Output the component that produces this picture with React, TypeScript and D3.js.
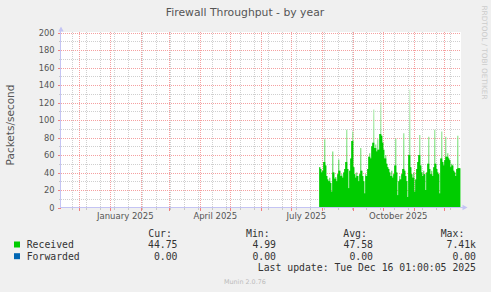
import React from "react";
import * as d3 from "d3";

const W = 491;
const H = 292;

const title = "Firewall Throughput - by year";
const yAxisLabel = "Packets/second";
const yTicks = [0, 20, 40, 60, 80, 100, 120, 140, 160, 180, 200];
const yMinorTicks = [10, 30, 50, 70, 90, 110, 130, 150, 170, 190];
const xLabels = ["January 2025", "April 2025", "July 2025", "October 2025"];
const xLabelDates = ["2025-01-16", "2025-04-16", "2025-07-16", "2025-10-16"];

// daily values of "Received", starting on this date
const receivedStart = "2025-07-29";
const received = [
  46, 44, 40, 42, 52, 78, 48, 36, 32, 30, 34, 28, 18, 64, 40, 33, 35, 30, 38, 55,
  42, 36, 38, 34, 40, 44, 52, 89, 44, 22, 42, 56, 76, 87, 46, 38, 34, 40, 36, 30,
  38, 68, 42, 36, 30, 16, 38, 36, 44, 58, 62, 56, 70, 74, 112, 68, 72, 64, 78, 66,
  84, 120, 82, 74, 66, 56, 60, 50, 46, 44, 40, 36, 42, 34, 38, 48, 79, 40, 14, 30,
  36, 32, 38, 44, 85, 42, 36, 30, 12, 60, 135, 46, 38, 34, 40, 18, 32, 44, 52, 60,
  83, 48, 40, 36, 42, 38, 20, 40, 50, 81, 44, 38, 42, 36, 46, 89, 50, 44, 40, 38,
  16, 56, 87, 52, 48, 54, 81, 58, 62, 56, 54, 46, 50, 48, 42, 40, 36, 44, 82, 45,
  44.75,
];

const legendNames = ["Received", "Forwarded"];
const legendColors = ["#00CC00", "#0066B3"];
const legendCur = ["44.75", "0.00"];
const legendMin = ["4.99", "0.00"];
const legendAvg = ["47.58", "0.00"];
const legendMax = ["7.41k", "0.00"];
const lastUpdate = "Last update: Tue Dec 16 01:00:05 2025";
const munin = "Munin 2.0.76";
const rrdCredit = "RRDTOOL / TOBI OETIKER";

const DAY = 86400000;
const parse = d3.utcParse("%Y-%m-%d");

type Pt = { date: Date; v: number; body: number };

export default function App() {
  const t0 = new Date(Date.UTC(2024, 10, 12, 16, 48));
  const t1 = new Date(t0.getTime() + 400 * DAY);
  const x = d3.scaleUtc().domain([t0, t1]).range([61, 461]);
  const y = d3.scaleLinear().domain([0, 200]).range([207.5, 32.5]);

  const start = parse(receivedStart) as Date;
  // "body" = fully covered part of each pixel column (rrdtool anti-aliasing look):
  // isolated spikes above their neighbours are drawn as a lighter tint.
  const pts: Pt[] = received.map((v, i) => {
    const prev = i > 0 ? received[i - 1] : v;
    const next = i < received.length - 1 ? received[i + 1] : v;
    return { date: d3.utcDay.offset(start, i), v, body: Math.min(v, Math.max(prev, next)) };
  });
  const last = pts[pts.length - 1];
  const ptsExt = [...pts, { date: d3.utcDay.offset(last.date, 1), v: last.v, body: last.body }];

  const areaTop = d3
    .area<Pt>()
    .x((d) => x(d.date))
    .y0(y(0))
    .y1((d) => y(d.v))
    .curve(d3.curveStepAfter);
  const areaBody = d3
    .area<Pt>()
    .x((d) => x(d.date))
    .y0(y(0))
    .y1((d) => y(d.body))
    .curve(d3.curveStepAfter);

  const months = d3.utcMonth.range(d3.utcMonth.ceil(t0), t1);
  const minorStart = new Date(Date.UTC(2024, 10, 24));
  const minors = d3
    .range(0, 30)
    .map((k) => d3.utcDay.offset(minorStart, k * 14))
    .filter((d) => d < t1);

  const px = (v: number) => Math.round(v) + 0.5;

  const xL = 61;
  const xR = 461;
  const yT = 32;
  const yB = 208;

  const mono = "'DejaVu Sans Mono', monospace";
  const sans = "'DejaVu Sans', sans-serif";

  return (
    <svg width={W} height={H} style={{ position: "absolute", left: 0, top: 0, display: "block" }}>
      <defs>
        <linearGradient id="tip" gradientUnits="userSpaceOnUse" x1={0} y1={y(40)} x2={0} y2={y(130)}>
          <stop offset="0" stopColor="#3fd23f" />
          <stop offset="1" stopColor="#c4f0c4" />
        </linearGradient>
      </defs>
      <rect x={0} y={0} width={W} height={H} fill="#F0F0F0" />
      <rect x={xL} y={yT} width={xR - xL} height={yB - yT} fill="#FFFFFF" />

      {/* minor grid */}
      <g stroke="#cfcfcf" strokeWidth={1} strokeDasharray="1,1" shapeRendering="crispEdges">
        {yMinorTicks.map((v) => (
          <line key={"ym" + v} x1={xL} x2={xR} y1={px(y(v))} y2={px(y(v))} />
        ))}
        {minors.map((d, i) => (
          <line key={"xm" + i} x1={px(x(d))} x2={px(x(d))} y1={yT} y2={yB} />
        ))}
      </g>
      {/* major grid */}
      <g stroke="#f5a0a0" strokeWidth={1} strokeDasharray="1,1" shapeRendering="crispEdges">
        {yTicks.filter((v) => v > 0).map((v) => (
          <line key={"yM" + v} x1={xL} x2={xR} y1={px(y(v))} y2={px(y(v))} />
        ))}
        {months.map((d, i) => (
          <line key={"xM" + i} x1={px(x(d))} x2={px(x(d))} y1={yT} y2={yB} />
        ))}
      </g>

      {/* data */}
      <path d={areaTop(ptsExt) || ""} fill="url(#tip)" />
      <path d={areaBody(ptsExt) || ""} fill={legendColors[0]} />

      {/* axis ticks */}
      <g shapeRendering="crispEdges">
        {minors.map((d, i) => (
          <line key={"tm" + i} x1={px(x(d))} x2={px(x(d))} y1={208} y2={210} stroke="#c8c8c8" />
        ))}
        {months.map((d, i) => (
          <line key={"tM" + i} x1={px(x(d))} x2={px(x(d))} y1={208} y2={211} stroke="#f08080" />
        ))}
        {yTicks.map((v) => (
          <line key={"ty" + v} x1={58} x2={61} y1={px(y(v))} y2={px(y(v))} stroke="#f08080" />
        ))}
        {yMinorTicks.map((v) => (
          <line key={"tym" + v} x1={59} x2={61} y1={px(y(v))} y2={px(y(v))} stroke="#c8c8c8" />
        ))}
      </g>

      {/* axes */}
      <g shapeRendering="crispEdges" stroke="#c4c4f4">
        <line x1={60.5} x2={60.5} y1={29} y2={208} />
        <line x1={60} x2={463} y1={207.5} y2={207.5} />
      </g>
      <path d="M61,26.5 L58.3,31.5 L63.7,31.5 Z" fill="#c4c4f4" />
      <path d="M467.5,207.5 L462.5,204.8 L462.5,210.2 Z" fill="#c4c4f4" />

      {/* y tick labels */}
      <g fontFamily={sans} fontSize={8.3} fill="#555" textAnchor="end">
        {yTicks.map((v) => (
          <text key={"yl" + v} x={54.5} y={y(v) + 3.3}>
            {v}
          </text>
        ))}
      </g>
      {/* x labels */}
      <g fontFamily={sans} fontSize={8.5} fill="#555" textAnchor="middle">
        {xLabels.map((l, i) => (
          <text key={l} x={x(parse(xLabelDates[i]) as Date)} y={218.5}>
            {l}
          </text>
        ))}
      </g>

      {/* title */}
      <text x={245} y={16} fontFamily={sans} fontSize={10.8} fill="#555" textAnchor="middle">
        {title}
      </text>
      {/* y axis label */}
      <text
        transform="translate(14,125) rotate(-90)"
        fontFamily={sans}
        fontSize={10.5}
        fill="#555"
        textAnchor="middle"
      >
        {yAxisLabel}
      </text>
      {/* credit */}
      <text
        transform="translate(482,5.5) rotate(90)"
        fontFamily={sans}
        fontSize={7.3}
        fill="#cccccc"
      >
        {rrdCredit}
      </text>

      {/* legend */}
      <g fontFamily={mono} fontSize={9.8} fill="#333">
        <text x={148.3} y={236.5}>Cur:</text>
        <text x={246} y={236.5}>Min:</text>
        <text x={343.3} y={236.5}>Avg:</text>
        <text x={440.7} y={236.5}>Max:</text>
        {legendNames.map((n, i) => {
          const yy = 248 + i * 11.7;
          return (
            <g key={n}>
              <rect x={14} y={yy - 6.5} width={6} height={6} fill={legendColors[i]} />
              <text x={26.7} y={yy}>{n}</text>
              <text x={177.5} y={yy} textAnchor="end">{legendCur[i]}</text>
              <text x={276} y={yy} textAnchor="end">{legendMin[i]}</text>
              <text x={373} y={yy} textAnchor="end">{legendAvg[i]}</text>
              <text x={476} y={yy} textAnchor="end">{legendMax[i]}</text>
            </g>
          );
        })}
        <text x={476} y={271.4} textAnchor="end">{lastUpdate}</text>
      </g>
      <text x={224} y={283.5} fontFamily={sans} fontSize={6.4} fill="#bbbbbb">
        {munin}
      </text>
    </svg>
  );
}
